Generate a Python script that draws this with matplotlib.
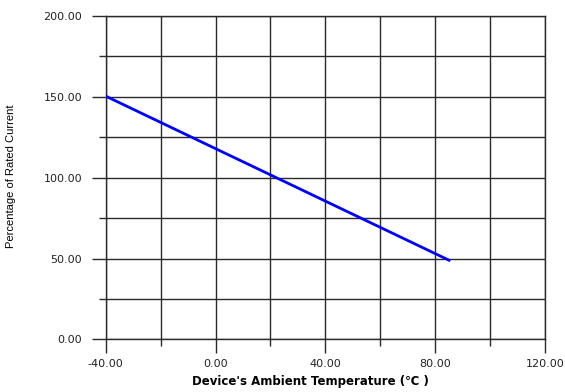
import numpy as np
import matplotlib.pyplot as plt
from matplotlib.ticker import MultipleLocator

# derating curve
temp = [-40, 85]
pct_current = [150.5, 49]

x_ticks = [-40, 0, 40, 80, 120]
y_ticks = [0, 50, 100, 150, 200]

fig = plt.figure(figsize=(5.65, 3.92), dpi=100)
ax = fig.add_axes([0.187, 0.134, 0.778, 0.825])

ax.plot(temp, pct_current, color='#0000ff', linewidth=2.0, zorder=3)

ax.set_xlim(-40, 120)
ax.set_ylim(0, 200)
ax.set_xticks(x_ticks)
ax.set_yticks(y_ticks)
ax.xaxis.set_minor_locator(MultipleLocator(20))
ax.yaxis.set_minor_locator(MultipleLocator(25))
ax.set_xticklabels(['%.2f' % v for v in x_ticks])
ax.set_yticklabels(['%.2f' % v for v in y_ticks])

ax.grid(which='both', color='#2a2a2a', linewidth=1.0)
for s in ax.spines.values():
    s.set_color('#2a2a2a')
    s.set_linewidth(1.0)

ax.tick_params(which='major', length=10, width=1.0, color='#2a2a2a',
               labelsize=8, labelcolor='#222222')
ax.tick_params(axis='y', which='major', pad=7)
ax.tick_params(axis='x', which='major', pad=4)
ax.tick_params(which='minor', length=5, width=1.0, color='#2a2a2a')
for lab in ax.get_xticklabels() + ax.get_yticklabels():
    lab.set_family('DejaVu Sans')

fig.text(0.55, 0.028, "Device's Ambient Temperature (\u2103 )",
         ha='center', va='center', fontsize=8.5, fontweight='bold',
         family='DejaVu Sans')
fig.text(0.019, 0.55, 'Percentage of Rated Current', rotation=90,
         ha='center', va='center', fontsize=8,
         family=['Liberation Sans Narrow', 'Liberation Sans'])

fig.savefig('out.png', dpi=100)
